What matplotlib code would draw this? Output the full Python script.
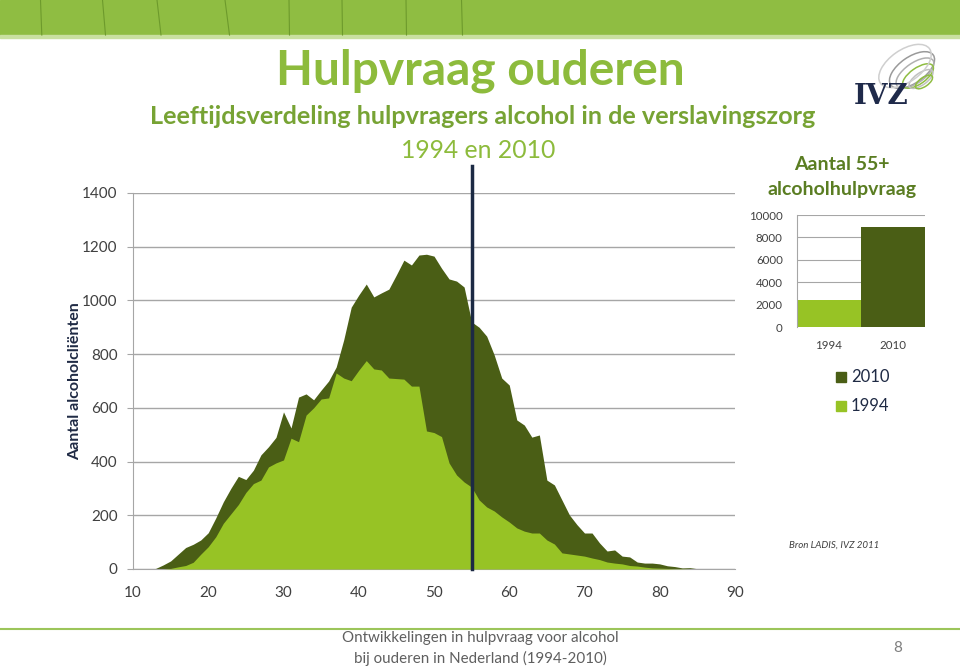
import numpy as np
import matplotlib
matplotlib.use('Agg')
import matplotlib.pyplot as plt
from matplotlib.patches import Ellipse, Rectangle

plt.rcParams['font.family'] = ['Lato', 'DejaVu Sans']

# leeftijd 10..90
leeftijd = list(range(10, 91))
clienten_2010 = [0, 0, 0, 2, 15, 30, 55, 80, 92, 108,
                 135, 190, 250, 300, 345, 333, 368, 425, 455, 490,
                 585, 525, 640, 652, 630, 666, 700, 752, 853, 975,
                 1020, 1061, 1013, 1028, 1042, 1095, 1150, 1132, 1169, 1172,
                 1165, 1120, 1080, 1072, 1050, 920, 900, 867, 797, 711,
                 685, 555, 536, 491, 499, 331, 313, 257, 201, 165,
                 134, 134, 97, 67, 71, 48, 45, 26, 22, 22,
                 19, 12, 9, 4, 5, 1, 0, 0, 0, 0, 0]
clienten_1994 = [0, 0, 0, 0, 0, 2, 8, 13, 25, 55,
                 83, 120, 170, 205, 240, 285, 318, 331, 380, 395,
                 406, 487, 474, 573, 600, 633, 637, 730, 711, 701,
                 740, 776, 745, 741, 711, 709, 707, 681, 681, 514,
                 508, 493, 395, 350, 324, 305, 257, 231, 216, 194,
                 175, 153, 141, 134, 134, 108, 93, 60, 56, 52,
                 48, 41, 35, 26, 22, 19, 13, 11, 7, 4,
                 3, 2, 1, 1, 0, 0, 0, 0, 0, 0, 0]

jaren = ['1994', '2010']
aantal_55plus = [2450, 8950]

donker = '#4a5e15'
licht = '#97c325'
grijs = '#a6a6a6'
tekst = '#404040'

fig = plt.figure(figsize=(9.6, 6.66), dpi=100)

# achtergrond laag (pixel coords)
bg = fig.add_axes([0, 0, 1, 1])
bg.set_xlim(0, 960)
bg.set_ylim(666, 0)
bg.axis('off')
bg.add_patch(Rectangle((0, 0), 960, 35, color='#8fbd42', zorder=0))
bg.add_patch(Rectangle((0, 35), 960, 2.5, color='#c9e0a0', zorder=0))
for x0, x1 in [(40.5, 41.8), (102.5, 105.5), (157, 161), (225, 229.5),
               (289, 289.5), (342, 342.5), (406, 406.5), (461.5, 462.5)]:
    bg.plot([x0, x1], [0, 35], color='#6d9a2c', lw=0.8, zorder=1)
bg.plot([0, 960], [629, 629], color='#9cc55a', lw=1.5)

bg.text(480, 71, 'Hulpvraag ouderen', ha='center', va='center',
        fontsize=34.5, fontweight='bold', color='#8dbb3c')
bg.text(483, 117, 'Leeftijdsverdeling hulpvragers alcohol in de verslavingszorg',
        ha='center', va='center', fontsize=18.2, fontweight='bold', color='#77a334')
bg.text(478, 150, '1994 en 2010', ha='center', va='center',
        fontsize=17.8, color='#8dbb3c')
bg.text(842, 165, 'Aantal 55+', ha='center', va='center',
        fontsize=14, fontweight='bold', color='#5a7d22')
bg.text(842, 189, 'alcoholhulpvraag', ha='center', va='center',
        fontsize=14, fontweight='bold', color='#5a7d22')
bg.text(480, 638, 'Ontwikkelingen in hulpvraag voor alcohol', ha='center',
        va='center', fontsize=10.9, color='#5f5f5f')
bg.text(480, 658, 'bij ouderen in Nederland (1994-2010)', ha='center',
        va='center', fontsize=10.9, color='#5f5f5f')
bg.text(898, 648, '8', ha='center', va='center', fontsize=11, color='#7f7f7f')
bg.text(789, 545, 'Bron LADIS, IVZ 2011', ha='left', va='center',
        fontsize=7, style='italic', color='#404040')

# logo
for cx, cy, w, h, a, c in [
        (912, 70, 52, 26, -35, '#9a9a9a'), (915, 73, 44, 20, -35, '#b0b0b0'),
        (918, 76, 36, 16, -35, '#8fbd42'), (921, 79, 28, 12, -35, '#c0c0c0'),
        (905, 66, 60, 32, -35, '#cfcfcf'), (924, 82, 20, 9, -35, '#8fbd42')]:
    bg.add_patch(Ellipse((cx, cy), w, h, angle=a, fill=False, ec=c, lw=1.1))
bg.text(881, 97, 'IVZ', ha='center', va='center', fontsize=20,
        fontweight='bold', family='DejaVu Serif', color='#1f2a4a')

# hoofdgrafiek
ax = fig.add_axes([133 / 960, 1 - 569 / 666, (735 - 133) / 960, (569 - 193) / 666])
ax.fill_between(leeftijd, clienten_2010, color=donker, lw=0, zorder=2)
ax.fill_between(leeftijd, clienten_1994, color=licht, lw=0, zorder=3)
ax.axvline(55, ymin=0, ymax=1500 / 1400, color='#1c2a44', lw=2.5,
           clip_on=False, zorder=4)
ax.set_xlim(10, 90)
ax.set_ylim(0, 1400)
ax.set_yticks(range(0, 1401, 200))
ax.set_xticks(range(10, 91, 10))
ax.yaxis.grid(True, color=grijs, lw=1)
ax.set_axisbelow(True)
for s in ['top', 'right']:
    ax.spines[s].set_visible(False)
for s in ['left', 'bottom']:
    ax.spines[s].set_color(grijs)
ax.tick_params(axis='y', colors=grijs, labelcolor=tekst, labelsize=11,
               length=4, pad=7)
ax.tick_params(axis='x', length=0, labelcolor=tekst, labelsize=11, pad=12)
ax.set_ylabel('Aantal alcoholcliënten', fontsize=11.5, fontweight='bold',
              color='#1f2a44', labelpad=0)

# inzet
ax2 = fig.add_axes([796.7 / 960, 1 - 327.3 / 666, (925 - 796.7) / 960,
                    (327.3 - 215) / 666])
ax2.bar([0, 1], aantal_55plus, width=1.0, color=[licht, donker], zorder=2)
ax2.set_xlim(-0.5, 1.5)
ax2.set_ylim(0, 10000)
ax2.set_yticks(range(0, 10001, 2000))
ax2.set_xticks([0, 1])
ax2.set_xticklabels(jaren)
ax2.yaxis.grid(True, color=grijs, lw=0.8)
ax2.set_axisbelow(True)
for s in ['top', 'right', 'bottom']:
    ax2.spines[s].set_visible(False)
ax2.spines['left'].set_color(grijs)
ax2.tick_params(axis='both', length=0, labelsize=8.3, labelcolor=tekst)
ax2.tick_params(axis='y', pad=10)
ax2.tick_params(axis='x', pad=9)

# legenda
bg.add_patch(Rectangle((836, 372), 10, 10, color=donker))
bg.add_patch(Rectangle((836, 401), 10, 10, color=licht))
bg.text(851, 377, '2010', ha='left', va='center', fontsize=12, color='#1f2a44')
bg.text(851, 406, '1994', ha='left', va='center', fontsize=12, color='#1f2a44')

fig.savefig('out.png', dpi=100)
